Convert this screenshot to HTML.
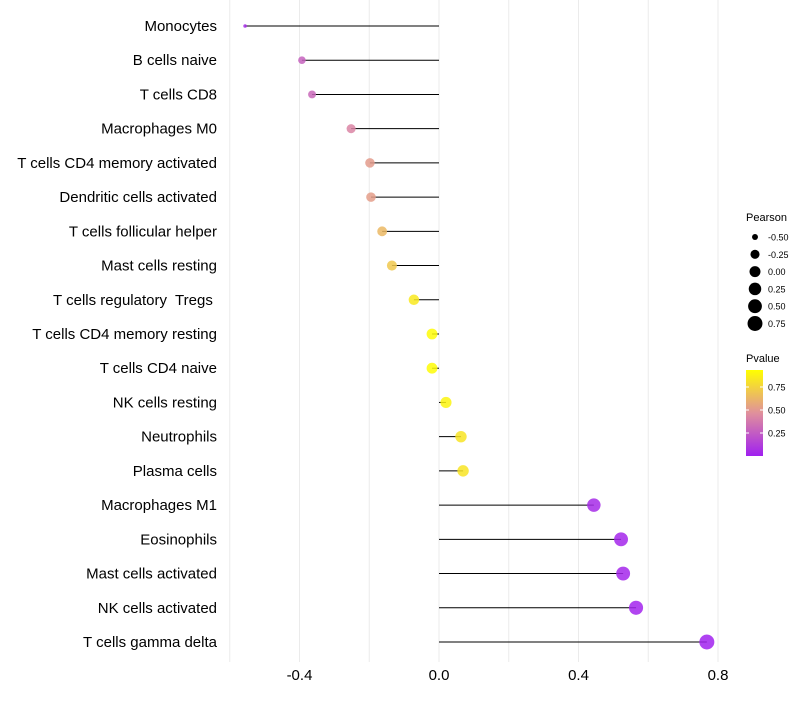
<!DOCTYPE html>
<html><head><meta charset="utf-8"><style>
body{margin:0;background:#fff;font-family:"Liberation Sans",sans-serif}
text{white-space:pre}
</style></head><body>
<svg id="c" width="800" height="700" xmlns="http://www.w3.org/2000/svg">
<defs><linearGradient id="pg" x1="0" y1="1" x2="0" y2="0">
<stop offset="0" stop-color="#a020f0"/><stop offset="0.5" stop-color="#e0909c"/><stop offset="1" stop-color="#ffff00"/>
</linearGradient></defs>
</svg>
<script>
const categories=["Monocytes","B cells naive","T cells CD8","Macrophages M0","T cells CD4 memory activated","Dendritic cells activated","T cells follicular helper","Mast cells resting","T cells regulatory  Tregs ","T cells CD4 memory resting","T cells CD4 naive","NK cells resting","Neutrophils","Plasma cells","Macrophages M1","Eosinophils","Mast cells activated","NK cells activated","T cells gamma delta"];
const pearson=[-0.556,-0.393,-0.364,-0.252,-0.198,-0.195,-0.163,-0.135,-0.072,-0.02,-0.02,0.02,0.063,0.069,0.444,0.522,0.528,0.565,0.768];
const pvalue=[0.05,0.3,0.32,0.45,0.55,0.56,0.68,0.75,0.9,0.98,0.98,0.95,0.88,0.88,0.05,0.03,0.03,0.02,0.01];
const xTicks=[-0.4,0.0,0.4,0.8];
const xTickLabels=["-0.4","0.0","0.4","0.8"];
const gridVals=[-0.6,-0.4,-0.2,0,0.2,0.4,0.6,0.8];
const sizeBreaks=[-0.5,-0.25,0,0.25,0.5,0.75];
const sizeLabels=["-0.50","-0.25","0.00","0.25","0.50","0.75"];
const colBreaks=[0.25,0.5,0.75];
const colLabels=["0.25","0.50","0.75"];
const svg=document.getElementById('c');const NS="http://www.w3.org/2000/svg";
const X=v=>439+v*348.75;
const Y=i=>26+i*(616/18);
const R=v=>1.8+5.7*Math.sqrt(Math.max(0,(v+0.556)/1.324));
function lerp(a,b,t){return a.map((x,i)=>Math.round(x+(b[i]-x)*t));}
function col(p){const s=[[160,32,240],[224,144,156],[255,255,0]];let c=p<0.5?lerp(s[0],s[1],p/0.5):lerp(s[1],s[2],(p-0.5)/0.5);return `rgb(${c})`;}
function mk(t,a){const e=document.createElementNS(NS,t);for(const k in a)e.setAttribute(k,a[k]);svg.appendChild(e);return e;}
gridVals.forEach(v=>{const g=mk('line',{x1:X(v),x2:X(v),y1:0,y2:662,stroke:'#ebebeb','stroke-width':1});

});
xTicks.forEach((v,i)=>{const t=mk('text',{x:X(v),y:680,'text-anchor':'middle','font-size':15,fill:'#000'});t.textContent=xTickLabels[i];

});
categories.forEach((c,i)=>{const y=Y(i);
const t=mk('text',{x:217,y:y+5,'text-anchor':'end','font-size':15,fill:'#000'});t.textContent=c;


const l=mk('line',{x1:X(0),x2:X(pearson[i]),y1:y,y2:y,stroke:'#000','stroke-width':1});


const p=mk('circle',{cx:X(pearson[i]),cy:y,r:R(pearson[i]),fill:col(pvalue[i]),'fill-opacity':0.85});

});
let t=mk('text',{x:746,y:221,'font-size':11});t.textContent="Pearson";


sizeBreaks.forEach((v,i)=>{const y=237+i*17.3;const c=mk('circle',{cx:755,cy:y,r:R(v),fill:'#000'});


const s=mk('text',{x:768,y:y+3.5,'font-size':9});s.textContent=sizeLabels[i];

});
t=mk('text',{x:746,y:362,'font-size':11});t.textContent="Pvalue";


const cb=mk('rect',{x:746,y:370,width:17,height:86,fill:'url(#pg)'});


colBreaks.forEach((v,i)=>{const y=456-v*92;mk('line',{x1:746,x2:749,y1:y,y2:y,stroke:'#fff'});mk('line',{x1:760,x2:763,y1:y,y2:y,stroke:'#fff'});
const s=mk('text',{x:768,y:y+3.5,'font-size':9});s.textContent=colLabels[i];

});
</script>
</body></html>
